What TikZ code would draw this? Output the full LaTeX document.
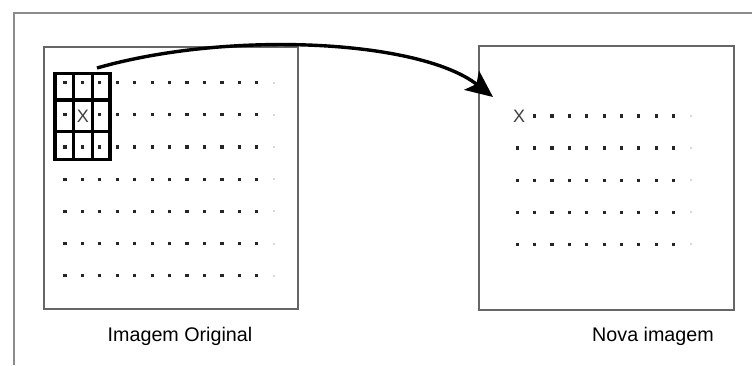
\documentclass[tikz,border=0pt]{standalone}
\usepackage{fontspec}
\setmainfont{Liberation Sans}
\usetikzlibrary{arrows.meta}
\begin{document}
\begin{tikzpicture}[x=1pt,y=-1pt,
  frameline/.style={draw=black!45,line width=1.4pt},
  imgbox/.style={draw=black!60,line width=1.1pt,inner sep=0pt,outer sep=0pt},
  gridline/.style={draw=black,line width=3.4pt},
  bigarrow/.style={draw=black,line width=3.4pt,-{Stealth[length=27pt,width=24pt,inset=6pt]}},
  caption/.style={font=\fontsize{19.7}{22}\selectfont,anchor=base,inner sep=0pt},
  xmark/.style={font=\fontsize{18}{20}\selectfont,text=black!75,anchor=base,inner sep=0pt},
  dot/.style={fill=black!85},
  faintdot/.style={fill=black!15}]
\useasboundingbox (0,0) rectangle (752,365);
% outer frame (top and left edges only)
\coordinate (ftl) at (14,13);
\coordinate (ftr) at (752,13);
\coordinate (fbl) at (14,365);
\draw[frameline] (ftr) -- (ftl) -- (fbl);
% image boxes
\node[imgbox,minimum width=254pt,minimum height=262pt] (orig) at (171,178) {};
\node[imgbox,minimum width=255pt,minimum height=264pt] (nova) at (606.5,178) {};
% dots in original image
\foreach \r in {0,...,6}{
  \foreach \c in {0,...,11}{
    \ifnum\r=1 \ifnum\c=1 \else
      \fill[dot] ({65+17.44*\c-1.6},{82.7+32.17*\r-1.6}) rectangle ++(3.2,3.2);
    \fi\else
      \fill[dot] ({65+17.44*\c-1.6},{82.7+32.17*\r-1.6}) rectangle ++(3.2,3.2);
    \fi
  }
  \fill[faintdot] ({65+17.44*12-1},{82.7+32.17*\r-1}) rectangle ++(2,2);
}
% 3x3 window
\draw[gridline] (55,73.3) rectangle (110,159.3);
\draw[gridline] (73.3,73.3) -- (73.3,159.3);
\draw[gridline] (92.7,73.3) -- (92.7,159.3);
\draw[gridline] (55,100) -- (110,100);
\draw[gridline] (55,131.7) -- (110,131.7);
\node[xmark] (xorig) at (83,122) {X};
% dots in new image
\foreach \r in {0,...,4}{
  \foreach \c in {0,...,9}{
    \ifnum\r=0 \ifnum\c=0 \else
      \fill[dot] ({517.3+17.37*\c-1.6},{116+32.08*\r-1.6}) rectangle ++(3.2,3.2);
    \fi\else
      \fill[dot] ({517.3+17.37*\c-1.6},{116+32.08*\r-1.6}) rectangle ++(3.2,3.2);
    \fi
  }
  \fill[faintdot] ({517.3+17.37*10-1},{116+32.08*\r-1}) rectangle ++(2,2);
}
\node[xmark] (xnova) at (519,122) {X};
% arrow
\coordinate (astart) at (97,68);
\coordinate (aend) at (493,97);
\draw[bigarrow] (astart) .. controls (230,30) and (420,40) .. (aend);
% captions
\node[caption] (corig) at (180,341) {Imagem Original};
\node[caption] (cnova) at (653,341) {Nova imagem};
\end{tikzpicture}
\end{document}
